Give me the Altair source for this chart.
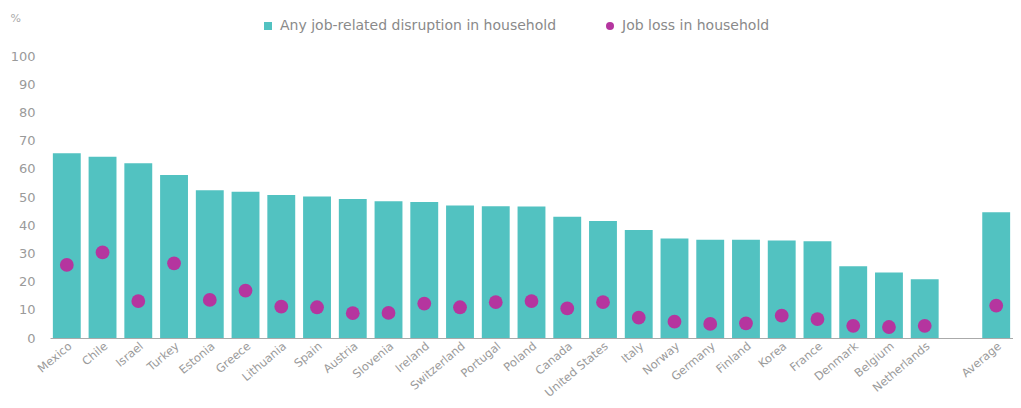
import altair as alt
import pandas as pd

countries = ["Mexico", "Chile", "Israel", "Turkey", "Estonia", "Greece", "Lithuania",
             "Spain", "Austria", "Slovenia", "Ireland", "Switzerland", "Portugal",
             "Poland", "Canada", "United States", "Italy", "Norway", "Germany",
             "Finland", "Korea", "France", "Denmark", "Belgium", "Netherlands", "Average"]
any_disruption = [65.5, 64.3, 62.0, 57.8, 52.4, 51.9, 50.7, 50.2, 49.3, 48.5, 48.2, 47.0,
                  46.7, 46.6, 43.0, 41.5, 38.3, 35.3, 34.8, 34.8, 34.6, 34.3, 25.4, 23.2,
                  20.8, 44.6]
job_loss = [25.9, 30.4, 13.1, 26.5, 13.5, 16.8, 11.1, 10.9, 8.8, 8.9, 12.2, 10.9, 12.7,
            13.1, 10.5, 12.7, 7.2, 5.8, 5.0, 5.2, 7.9, 6.7, 4.3, 3.9, 4.3, 11.5]
series_names = ["Any job-related disruption in household", "Job loss in household"]
series_colors = ["#52c2c1", "#b5359f"]
y_ticks = [0, 10, 20, 30, 40, 50, 60, 70, 80, 90, 100]

x_domain = countries[:-1] + [" "] + countries[-1:]

bars_df = pd.DataFrame({"country": countries, "value": any_disruption,
                        "series": series_names[0]})
dots_df = pd.DataFrame({"country": countries, "value": job_loss,
                        "series": series_names[1]})

FONT = "DejaVu Sans"
GRAY = "#9a9a9a"

x_enc = alt.X("country:N", sort=x_domain,
              scale=alt.Scale(domain=x_domain, paddingInner=0.22, paddingOuter=0.08),
              axis=alt.Axis(title=None, labelAngle=-40, labelAlign="right",
                            labelBaseline="top", labelPadding=2, ticks=False,
                            domainColor="#aaaaaa", labelColor=GRAY,
                            labelFontSize=11.5, labelFont=FONT))
y_enc = alt.Y("value:Q",
              scale=alt.Scale(domain=[0, 100], nice=False),
              axis=alt.Axis(values=y_ticks, title="%", titleAngle=0, titleX=-40,
                            titleY=-38, titleAlign="left", titleBaseline="middle",
                            titleFontWeight="normal", titleFontSize=11,
                            titleColor="#aaaaaa", titleFont=FONT,
                            domain=False, ticks=False, grid=False,
                            labelColor=GRAY, labelFontSize=13, labelFont=FONT,
                            labelPadding=15))

color_scale = alt.Scale(domain=series_names, range=series_colors)
shape_scale = alt.Scale(domain=series_names, range=["square", "circle"])

legend = alt.Legend(title=None, orient="none", legendX=211, legendY=-37,
                    direction="horizontal", labelFont=FONT, labelFontSize=14,
                    labelColor="#8a8a8a", symbolSize=64, columnPadding=46,
                    symbolOpacity=1, labelLimit=0, labelOffset=5)

bars = alt.Chart(bars_df).mark_bar().encode(
    x=x_enc, y=y_enc,
    color=alt.Color("series:N", scale=color_scale, legend=legend),
)
dots = alt.Chart(dots_df).mark_point(filled=True, opacity=1, size=190).encode(
    x=x_enc, y=y_enc,
    color=alt.Color("series:N", scale=color_scale, legend=legend),
    shape=alt.Shape("series:N", scale=shape_scale, legend=legend),
)

chart = alt.layer(bars, dots).properties(
    width=963, height=282,
    autosize=alt.AutoSizeParams(type="none"),
    padding={"left": 42, "top": 48, "right": 0, "bottom": 62},
).configure(font=FONT, background="white").configure_view(strokeWidth=0, stroke="transparent")

chart.save("out.html", embed_options={"renderer": "svg", "actions": False})
